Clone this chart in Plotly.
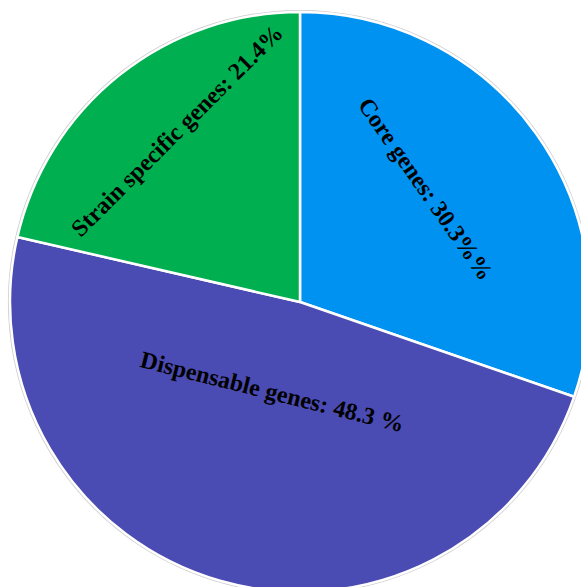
import math
import plotly.graph_objects as go

# Gene categories of the pan-genome and their shares (%)
categories = ["Core genes", "Dispensable genes", "Strain specific genes"]
shares = [30.3, 48.3, 21.4]
slice_labels = ["Core genes: 30.3%%", "Dispensable genes: 48.3 %", "Strain specific genes: 21.4%"]
colors = ["#0092F0", "#4B4BB4", "#00B050"]

W, H = 600, 600
cx, cy, r = 300, 302, 290  # pie centre / radius in pixels

# label placement: (polar angle clockwise from 12 o'clock, fraction of radius, text rotation)
label_pos = [(48.0, 0.584, 55), (196.7, 0.324, 14), (324.2, 0.728, -45)]


def dom(radius):
    return dict(
        x=[(cx - radius) / W, (cx + radius) / W],
        y=[(H - cy - radius) / H, (H - cy + radius) / H],
    )


fig = go.Figure()

# faint grey rim around the pie
fig.add_trace(go.Pie(
    values=[1], labels=["rim"], domain=dom(r + 2),
    marker=dict(colors=["#cfcfcf"], line=dict(width=0)),
    textinfo="none", hoverinfo="skip", sort=False, showlegend=False,
))

fig.add_trace(go.Pie(
    labels=categories,
    values=shares,
    text=slice_labels,
    textinfo="none",
    marker=dict(colors=colors, line=dict(color="white", width=2.5)),
    sort=False,
    direction="clockwise",
    rotation=0,
    domain=dom(r),
    showlegend=False,
))

for txt, (ang, frac, rot) in zip(slice_labels, label_pos):
    a = math.radians(ang)
    px = cx + frac * r * math.sin(a)
    py = cy - frac * r * math.cos(a)
    fig.add_annotation(
        x=px / W, y=(H - py) / H, xref="paper", yref="paper",
        text=txt, showarrow=False, textangle=rot,
        xanchor="center", yanchor="middle",
        font=dict(family="Liberation Serif", size=24, color="black", weight="bold"),
    )

fig.update_layout(
    width=W, height=H,
    margin=dict(l=0, r=0, t=0, b=0),
    paper_bgcolor="white",
)

fig.write_html(
    "out.html",
    post_script="document.documentElement.style.overflow='hidden';document.body.style.overflow='hidden';",
)
